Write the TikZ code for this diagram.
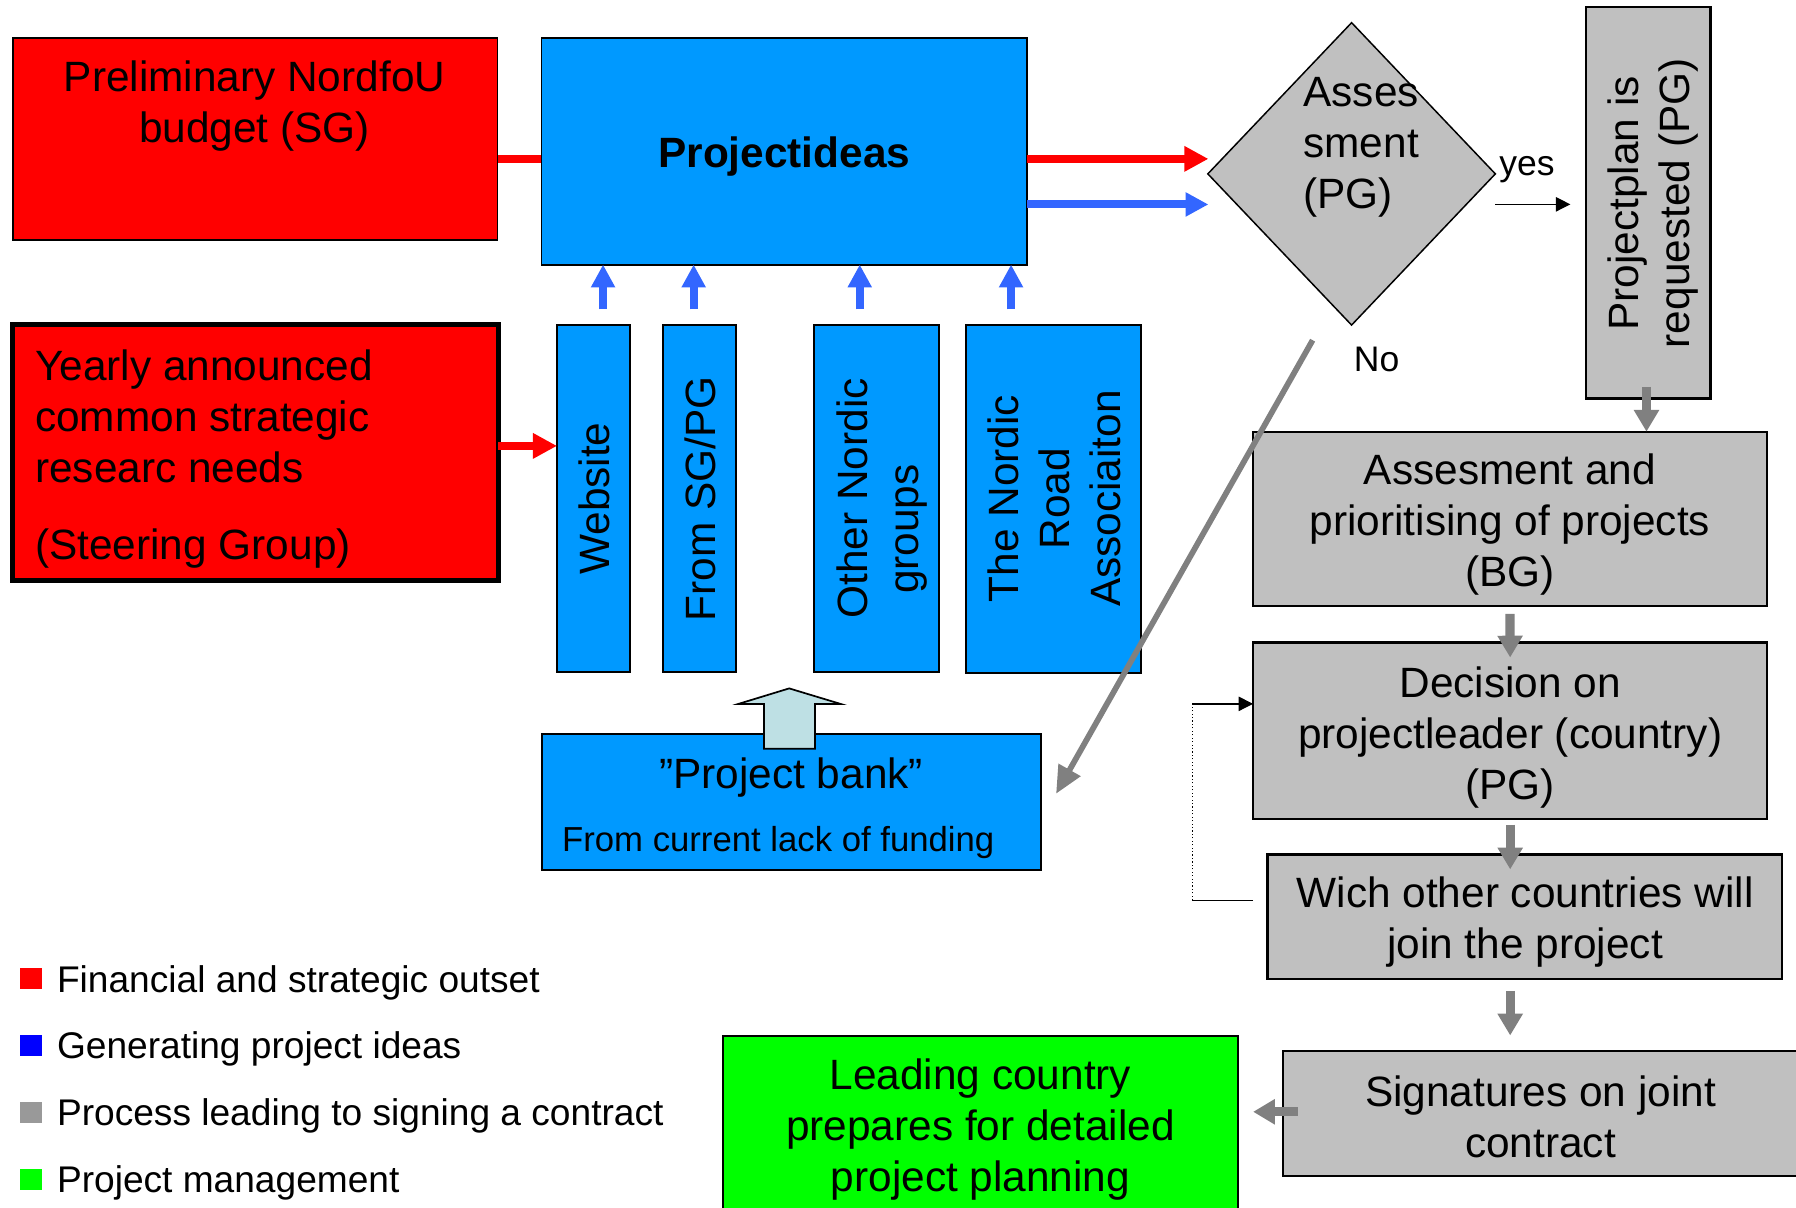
\documentclass[tikz,border=0pt]{standalone}
\usepackage{fontspec}
\setmainfont{Liberation Sans}
\usetikzlibrary{arrows.meta,shapes.geometric,calc}
\definecolor{fred}{RGB}{255,0,0}
\definecolor{fblue}{RGB}{0,153,255}
\definecolor{ablue}{RGB}{51,102,255}
\definecolor{fgray}{RGB}{192,192,192}
\definecolor{agray}{RGB}{128,128,128}
\definecolor{fgreen}{RGB}{0,255,0}
\definecolor{fcyan}{RGB}{190,224,228}
\definecolor{lgray}{RGB}{153,153,153}
\definecolor{lblue}{RGB}{0,0,255}
\begin{document}
\begin{tikzpicture}[x=1pt,y=-1pt,
  bx/.style={draw=black,line width=1.6pt,inner sep=0pt,outer sep=0pt},
  gbx/.style={bx,fill=fgray,line width=2pt},
  tx/.style={inner sep=0pt,outer sep=0pt,font=\fontsize{37}{44.5}\selectfont,align=center},
  stx/.style={inner sep=0pt,outer sep=0pt,anchor=base west},
  rarrow/.style={draw=fred,line width=7pt,-{Triangle[length=21pt,width=21pt]}},
  barrow/.style={draw=ablue,line width=7pt,-{Triangle[length=20pt,width=20pt]}},
  garrow/.style={draw=agray,line width=8pt,-{Triangle[length=19pt,width=21pt]}},
  karrow/.style={draw=black,line width=1.2pt,-{Triangle[length=12.6pt,width=12.5pt]}},
  lsq/.style={inner sep=0pt,outer sep=0pt,minimum width=18.7pt,minimum height=18.1pt},
]
\useasboundingbox (0,0) rectangle (1568,1054);
\clip (0,0) rectangle (1568,1054);

% ---------- boxes ----------
\node[bx,fill=fred,minimum width=423.4pt,minimum height=175.8pt] (red1) at (222.7,121.3) {};
\node[bx,fill=fblue,minimum width=423.7pt,minimum height=197.8pt] (ideas) at (684.55,132.1) {};
\node[bx,fill=fred,line width=4pt,minimum width=424.3pt,minimum height=223.7pt] (red2) at (222.85,395.15) {};
\node[bx,fill=fblue,minimum width=63.7pt,minimum height=302.7pt] (web) at (518.15,435.35) {};
\node[bx,fill=fblue,minimum width=63.9pt,minimum height=302.7pt] (sgpg) at (610.65,435.35) {};
\node[bx,fill=fblue,minimum width=108.8pt,minimum height=302.7pt] (other) at (765.2,435.35) {};
\node[bx,fill=fblue,minimum width=153.2pt,minimum height=303.4pt] (nordic) at (919.6,435.7) {};
\node[bx,fill=fblue,minimum width=436pt,minimum height=118.6pt] (bank) at (691,700.3) {};
\node[diamond,draw=black,line width=1.3pt,fill=fgray,inner sep=0pt,outer sep=0pt,
      minimum width=251pt,minimum height=264pt] (diam) at (1180,151.8) {};
\node[gbx,minimum width=108.7pt,minimum height=341.4pt] (plan) at (1438.95,177.1) {};
\node[gbx,minimum width=448.5pt,minimum height=152pt] (assess) at (1318.25,452.9) {};
\node[gbx,minimum width=448.9pt,minimum height=154pt] (dec) at (1318.45,638) {};
\node[gbx,minimum width=449.4pt,minimum height=108.5pt] (wich) at (1331.3,800.25) {};
\node[gbx,minimum width=449pt,minimum height=108.9pt] (sig) at (1344.5,972.05) {};
\node[bx,fill=fgreen,minimum width=450pt,minimum height=170pt] (green) at (856,989.6) {};

% ---------- connectors ----------
\coordinate (rtip) at (1055,138.7);
\coordinate (btip) at (1055,178.5);
\draw[draw=fred,line width=7pt] (red1.east |- rtip) -- (ideas.west |- rtip);
\draw[rarrow] (ideas.east |- rtip) -- (rtip);
\draw[barrow] (ideas.east |- btip) -- (btip);
\coordinate (r2y) at (0,389.3);
\draw[rarrow] (red2.east |- r2y) -- (web.west |- r2y);

\coordinate (weba) at (526.5,270);
\coordinate (sgpga) at (605.6,270);
\coordinate (othera) at (750.6,270);
\coordinate (nordica) at (882.7,270);
\draw[barrow] (weba) -- (weba |- ideas.south);
\draw[barrow] (sgpga) -- (sgpga |- ideas.south);
\draw[barrow] (othera) -- (othera |- ideas.south);
\draw[barrow] (nordica) -- (nordica |- ideas.south);

\coordinate (yesend) at (1371,178.4);
\draw[karrow] (diam.east |- yesend) -- (yesend);

\draw[garrow] ($(plan.south)+(-1.5,-10)$) -- ($(plan.south |- assess.north)+(-1.5,0)$);
\draw[garrow] ($(assess.south)+(0,7)$) -- ($(dec.north)+(0,13)$);
\draw[garrow] ($(dec.south)+(0,5)$) -- ($(dec.south |- wich.north)+(0,13)$);
\draw[garrow] ($(dec.south |- wich.south)+(0,10.5)$) -- ($(dec.south |- sig.north)+(0,-13.6)$);
\draw[garrow] ($(sig.west)+(13,-1.4)$) -- ($(green.east |- sig.west)+(13,-1.4)$);

\draw[draw=agray,line width=5pt,-{Triangle[length=24pt,width=21pt]}]
  ($(diam.south)+(-34,13.2)$) -- ($(bank.east)+(13,-7.3)$);

\coordinate (lb) at (1041,786);
\coordinate (lt) at (1041,614.5);
\draw[line width=1.2pt] ($(wich.west |- lb)+(-12.6,0)$) -- (lb);
\draw[line width=1pt,dotted] (lb) -- (lt);
\draw[karrow] (lt) -- (dec.west |- lt);

% block arrow from the project bank
\draw[fill=fcyan,line width=1.5pt,line join=miter]
  (667,653.7) -- (667,614.6) -- (644.5,614.6) -- (689,601) -- (734,614.6)
  -- (711.6,614.6) -- (711.6,653.7) -- cycle;

% ---------- texts ----------
\node[tx] (red1t) at (222.2,92.7) {Preliminary NordfoU\\budget (SG)};
\node[tx,anchor=base,font=\fontsize{37}{44.5}\selectfont\bfseries] (ideast) at (684.7,146.2) {Projectideas};
\node[tx,align=left,anchor=west,font=\fontsize{37}{44.7}\selectfont] (red2t) at (30.7,400.7)
  {Yearly announced\\common strategic\\researc needs\\[22.8pt](Steering Group)};
\node[tx,rotate=90] (webt) at (519.3,435.3) {Website};
\node[tx,rotate=90] (sgpgt) at (611.4,435.3) {From SG/PG};
\node[tx,rotate=90] (othert) at (769.7,435) {Other Nordic\\groups\hspace*{54pt}};
\node[tx,rotate=90] (nordict) at (920.75,435.3) {The Nordic\\Road\\Associaiton};
\node[tx,rotate=90] (plant) at (1442.8,177.5) {Projectplan is\\requested (PG)};
\node[tx,align=left,anchor=west] (diamt) at (1138,128.4) {Asses\\sment\\(PG)};
\node[stx,font=\fontsize{31}{37}\selectfont] (yes) at (1309,153) {yes};
\node[stx,font=\fontsize{31}{37}\selectfont] (no) at (1182,324) {No};
\node[tx,anchor=base] (bankt) at (690.7,688) {”Project bank”};
\node[stx,font=\fontsize{30.3}{36}\selectfont] (bankt2) at (490.8,743.5) {From current lack of funding};
\node[tx] (assesst) at (1318.3,458) {Assesment and\\prioritising of projects\\(BG)};
\node[tx] (dect) at (1318.5,643.5) {Decision on\\projectleader (country)\\(PG)};
\node[tx] (wicht) at (1331.5,805) {Wich other countries will\\join the project};
\node[tx] (sigt) at (1345,975) {Signatures on joint\\contract};
\node[tx] (greent) at (856,986.5) {Leading country\\prepares for detailed\\project planning};

% ---------- legend ----------
\node[lsq,fill=fred] (lg1) at (27,854.45) {};
\node[lsq,fill=lblue] (lg2) at (27,912.8) {};
\node[lsq,fill=lgray] (lg3) at (27,971.25) {};
\node[lsq,fill=fgreen] (lg4) at (27,1029.5) {};
\node[stx,font=\fontsize{32.4}{38}\selectfont] (lt1) at (49.8,866.3) {Financial and strategic outset};
\node[stx,font=\fontsize{32.4}{38}\selectfont] (lt2) at (49.8,924.5) {Generating project ideas};
\node[stx,font=\fontsize{32.4}{38}\selectfont] (lt3) at (49.8,982.5) {Process leading to signing a contract};
\node[stx,font=\fontsize{32.4}{38}\selectfont] (lt4) at (49.8,1040.9) {Project management};
\end{tikzpicture}
\end{document}
